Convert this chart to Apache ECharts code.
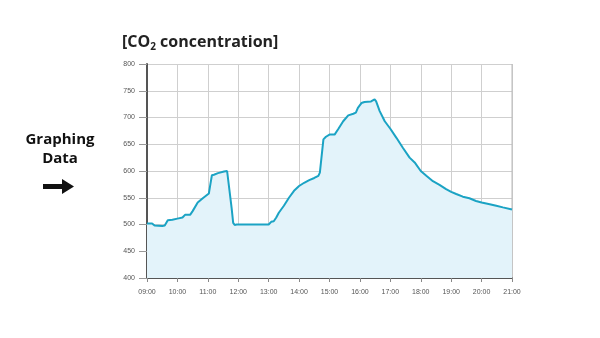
<!DOCTYPE html>
<html><head><meta charset="utf-8">
<script src="https://cdn.jsdelivr.net/npm/echarts@6/dist/echarts.min.js"></script>
<style>html,body{margin:0;padding:0;background:#fff}#c{width:600px;height:338px}</style>
</head><body><div id="c"></div>
<script>
const times = ["09:00","09:10","09:15","09:30","09:35","09:41","09:50","10:00","10:10","10:15","10:25","10:30","10:40","10:50","11:02","11:05","11:08","11:12","11:20","11:32","11:38","11:40","11:47","11:50","11:53","11:57","12:30","13:00","13:05","13:10","13:15","13:20","13:30","13:40","13:50","14:00","14:10","14:20","14:30","14:38","14:41","14:48","14:53","15:00","15:10","15:17","15:27","15:37","15:47","15:52","15:56","16:03","16:09","16:22","16:29","16:32","16:39","16:49","17:00","17:12","17:25","17:38","17:48","18:00","18:11","18:24","18:37","18:50","19:00","19:10","19:23","19:36","19:49","20:00","20:16","20:29","20:42","21:00"];
const co2 = [502,502,498,497,498,508,509,511,513,518,518,525,541,549,558,575,592,593,596,599,600,597,530,503,499,500,500,500,505,506,513,522,535,550,563,572,578,583,587,591,597,659,664,668,668,678,693,704,707,709,718,727,729,730,734,730,712,693,679,662,643,625,616,600,591,581,574,566,561,557,552,549,544,541,538,535,532,528];
const xTickLabels = ["09:00","10:00","11:00","12:00","13:00","14:00","15:00","16:00","17:00","18:00","19:00","20:00","21:00"];

function toHours(t){const p=t.split(':');return +p[0]+(+p[1])/60;}
const data = times.map((t,i)=>[toHours(t),co2[i]]);

const chart = echarts.init(document.getElementById('c'),null,{renderer:'canvas'});
chart.setOption({
  backgroundColor:'#ffffff',
  animation:false,
  title:{
    text:'{b|[CO}{s|2}{b| concentration]}',
    left:117, top:28,
    textStyle:{rich:{
      b:{fontFamily:'Open Sans',fontWeight:'bold',fontSize:16,color:'#222'},
      s:{fontFamily:'Open Sans',fontWeight:'bold',fontSize:10,color:'#222',verticalAlign:'bottom',padding:[9,0,0,0]}
    }}
  },
  graphic:[
    {type:'text',style:{text:'Graphing\nData',x:60,y:130,textAlign:'center',fill:'#111',font:'bold 15px "Open Sans"',lineHeight:19}},
    {type:'rect',shape:{x:43,y:184,width:20,height:5},style:{fill:'#111'}},
    {type:'polygon',shape:{points:[[62,179],[74,186.5],[62,194]]},style:{fill:'#111'}}
  ],
  grid:{left:147,right:88,top:64,bottom:60},
  xAxis:{
    type:'value',min:9,max:21,interval:1,
    axisLine:{show:true,lineStyle:{color:'#555',width:2}},
    axisTick:{show:true,length:4,lineStyle:{color:'#888'}},
    axisLabel:{fontSize:7,color:'#555',fontFamily:'Liberation Sans',margin:11,
      formatter:v=>xTickLabels[Math.round(v-9)]||''},
    splitLine:{show:true,lineStyle:{color:'#cfcfcf',width:1}}
  },
  yAxis:{
    type:'value',min:400,max:800,interval:50,
    axisLine:{show:true,lineStyle:{color:'#555',width:2}},
    axisTick:{show:true,length:8,lineStyle:{color:'#999'}},
    axisLabel:{fontSize:7,color:'#555',fontFamily:'Liberation Sans',margin:12},
    splitLine:{show:true,lineStyle:{color:'#cfcfcf',width:1}}
  },
  series:[{
    type:'line',data:data,showSymbol:false,smooth:false,
    lineStyle:{color:'#1ba3c4',width:2},
    areaStyle:{color:'#e3f3fa',opacity:1},
    z:3
  },{
    type:'line',data:[[21,400],[21,800]],showSymbol:false,silent:true,
    lineStyle:{color:'#bbb',width:1},z:1
  }]
});
</script></body></html>
